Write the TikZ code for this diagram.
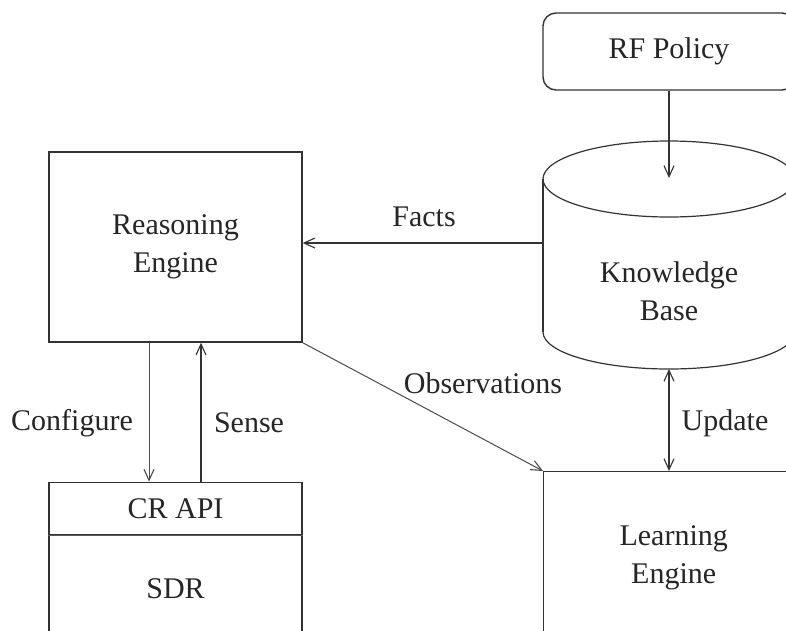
\documentclass[tikz,border=0pt]{standalone}
\usepackage{fontspec}
\setmainfont{Liberation Serif}
\usetikzlibrary{arrows.meta}
\begin{document}
\begin{tikzpicture}[x=1pt,y=-1pt,
  font=\fontsize{30}{38}\selectfont,
  every node/.style={text=black!85},
  box/.style={draw=black!80, line width=1.4pt, rectangle, inner sep=0pt, align=center},
  conn/.style={draw=black!80, line width=1.2pt, -{Straight Barb[length=11pt,width=10pt,line width=1.1pt]}},
  biconn/.style={conn, {Straight Barb[length=11pt,width=10pt,line width=1.1pt]}-{Straight Barb[length=11pt,width=10pt,line width=1.1pt]}},
  lbl/.style={inner sep=0pt}]
\clip (0,0) rectangle (786,630);
\fill[white] (0,0) rectangle (786,630);

% blocks
\node[box, minimum width=253pt, minimum height=190pt] (re) at (175.5,247) {Reasoning\\Engine};
\node[box, minimum width=253pt, minimum height=106pt, anchor=north] (sdr) at (175.5,535) {SDR};
\node[box, minimum width=253pt, minimum height=52pt, anchor=south] (api) at (sdr.north) {CR API};
\draw[black!65, line width=1pt] (api.south west) -- (api.south east);
\node[box, minimum width=260pt, minimum height=172pt, anchor=north west] (le) at (543,471) {Learning\\Engine};
\node[box, rounded corners=13pt, minimum width=252pt, minimum height=77pt] (rf) at (669,51.5) {RF Policy};

% knowledge base drum
\draw[black!80, line width=1.2pt] (669,179) ellipse [x radius=126pt, y radius=38pt];
\draw[black!80, line width=1.4pt] (543,179) -- (543,332);
\draw[black!80, line width=1.2pt] (543,332) arc[start angle=180, end angle=360, x radius=126pt, y radius=37pt];
\node[lbl, align=center] (kb) at (669,291) {Knowledge\\Base};
\coordinate (kbtop) at (669,178);
\coordinate (kbside) at (543,243);
\coordinate (kbbot) at (669,369);

% connectors
\draw[conn] (rf.south) -- (kbtop);
\draw[conn] (kbside) -- (kbside -| re.east);
\draw[conn, draw=black!70, line width=1pt] (re.south east) -- (le.north west);
\draw[biconn] (kbbot) -- (kbbot |- le.north);
\draw[conn, draw=black!70, line width=1pt] ([xshift=-26.5pt]re.south) -- ([xshift=-26.5pt]api.north);
\draw[conn] ([xshift=25.5pt]api.north) -- ([xshift=25.5pt]re.south);

% connector labels
\node[lbl] (facts) at (424,217) {Facts};
\node[lbl] (obs) at (483,383) {Observations};
\node[lbl] (upd) at (725,423) {Update};
\node[lbl] (cfg) at (72,423) {Configure};
\node[lbl] (sense) at (249,423) {Sense};
\end{tikzpicture}
\end{document}
